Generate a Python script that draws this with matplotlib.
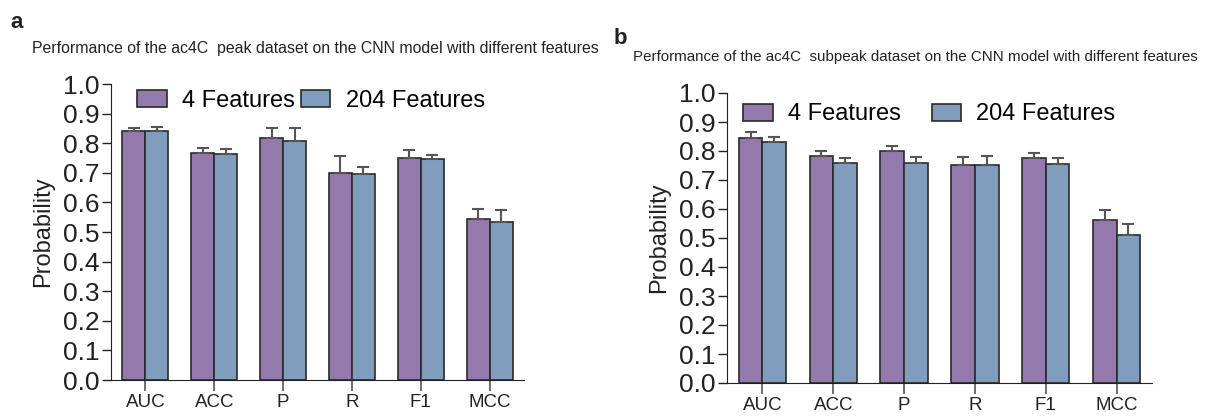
import matplotlib
matplotlib.use("Agg")
import matplotlib.pyplot as plt
import numpy as np

plt.rcParams['font.family'] = ['Liberation Sans', 'DejaVu Sans']

metrics = ['AUC', 'ACC', 'P', 'R', 'F1', 'MCC']
series_names = ['4 Features', '204 Features']

# panel a: peak dataset
peak_4 = [0.842, 0.768, 0.816, 0.698, 0.750, 0.545]
peak_4_err = [0.008, 0.017, 0.034, 0.058, 0.026, 0.032]
peak_204 = [0.840, 0.765, 0.808, 0.696, 0.747, 0.535]
peak_204_err = [0.015, 0.017, 0.044, 0.024, 0.013, 0.039]

# panel b: subpeak dataset
sub_4 = [0.845, 0.782, 0.801, 0.752, 0.775, 0.563]
sub_4_err = [0.019, 0.018, 0.015, 0.027, 0.018, 0.033]
sub_204 = [0.831, 0.757, 0.759, 0.751, 0.755, 0.509]
sub_204_err = [0.019, 0.019, 0.020, 0.033, 0.020, 0.040]

purple = '#9479ac'
blue = '#809dbe'

W, H = 1210, 417
fig = plt.figure(figsize=(W / 100, H / 100), dpi=100)


def px_axes(x0, x1, ytop, ybot):
    return fig.add_axes([x0 / W, 1 - ybot / H, (x1 - x0) / W, (ybot - ytop) / H])


def draw_panel(ax, v4, e4, v204, e204, leg_anchor, colspace):
    x = np.arange(len(metrics))
    w = 0.335
    zeros = [0] * len(metrics)
    ax.bar(x - w / 2, v4, w, color=purple, edgecolor='#2a2a2a', linewidth=1.2,
           yerr=[zeros, e4], error_kw=dict(ecolor='#555555', elinewidth=1.5, capsize=4, capthick=1.5),
           label=series_names[0], zorder=2)
    ax.bar(x + w / 2, v204, w, color=blue, edgecolor='#2a2a2a', linewidth=1.2,
           yerr=[zeros, e204], error_kw=dict(ecolor='#555555', elinewidth=1.5, capsize=4, capthick=1.5),
           label=series_names[1], zorder=2)
    ax.set_xlim(-0.5, 5.5)
    ax.set_ylim(0, 1.0)
    ax.set_yticks(np.arange(0, 1.01, 0.1))
    ax.set_yticklabels(['%.1f' % t for t in np.arange(0, 1.01, 0.1)], fontsize=19)
    ax.set_xticks(x)
    ax.set_xticklabels(metrics, fontsize=13.5)
    ax.spines['top'].set_visible(False)
    ax.spines['right'].set_visible(False)
    ax.spines['left'].set_color('#222222')
    ax.spines['bottom'].set_color('#222222')
    ax.tick_params(axis='y', direction='out', length=6.5, width=1, color='#222222', pad=2, labelcolor='#222222')
    ax.tick_params(axis='x', direction='out', length=8, width=1.2, color='#555555', pad=2, labelcolor='#222222')
    ax.set_ylabel('Probability', fontsize=17, color='#222222', labelpad=6)
    ax.legend(loc='center left', bbox_to_anchor=leg_anchor, ncol=2, frameon=False,
              fontsize=17, handlelength=1.25, handleheight=0.75, handletextpad=0.65,
              columnspacing=colspace, borderpad=0, borderaxespad=0)


ax1 = px_axes(111, 524, 84, 380)
draw_panel(ax1, peak_4, peak_4_err, peak_204, peak_204_err, (0.063, 0.943), 0.25)

ax2 = px_axes(727, 1152, 93, 383)
draw_panel(ax2, sub_4, sub_4_err, sub_204, sub_204_err, (0.038, 0.926), 1.3)

fig.text(10 / W, 1 - 28 / H, 'a', fontsize=16, fontweight='bold', color='#222222')
fig.text(32 / W, 1 - 53 / H,
         'Performance of the ac4C  peak dataset on the CNN model with different features',
         fontsize=11.4, color='#222222')
fig.text(614 / W, 1 - 44 / H, 'b', fontsize=16, fontweight='bold', color='#222222')
fig.text(633 / W, 1 - 61 / H,
         'Performance of the ac4C  subpeak dataset on the CNN model with different features',
         fontsize=10.9, color='#222222')

fig.savefig('out.png', dpi=100)
